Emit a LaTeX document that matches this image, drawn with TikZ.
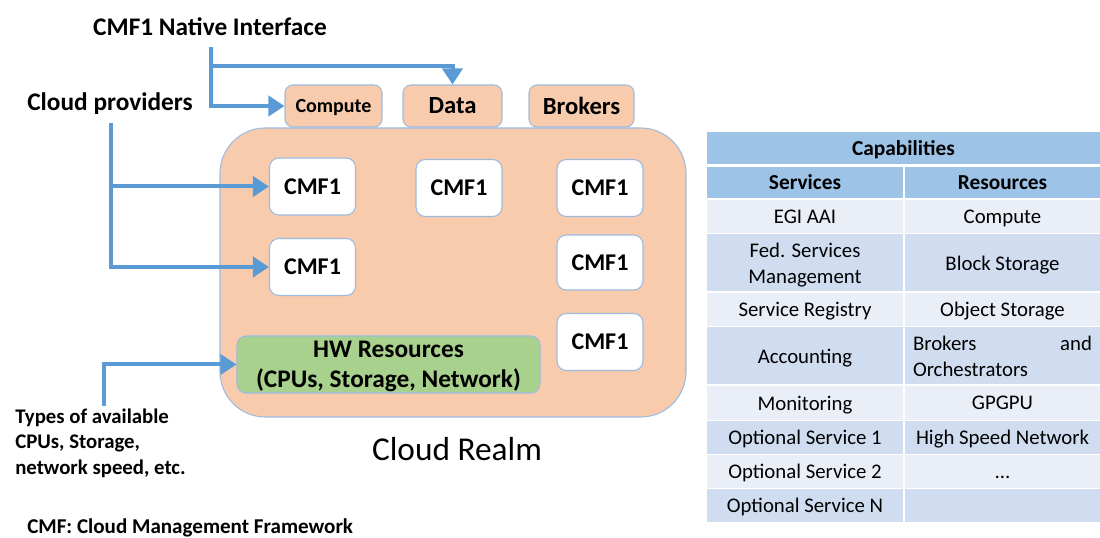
\documentclass[tikz,border=0pt]{standalone}
\usepackage{fontspec}
\setmainfont{Carlito}
\usetikzlibrary{arrows.meta}
\definecolor{arrblue}{HTML}{5B9BD5}
\definecolor{peach}{HTML}{F8CBAD}
\definecolor{edgeblue}{HTML}{9DBBE0}
\definecolor{hwgreen}{HTML}{A9D18E}
\definecolor{hdrblue}{HTML}{9DC3E6}
\definecolor{bandlight}{HTML}{E9EEF7}
\definecolor{banddark}{HTML}{D0DCEF}
\def\PX{0.75pt}
\tikzset{
  lbl/.style={font=\fontsize{19}{23}\selectfont\bfseries, inner sep=0pt},
  topbox/.style={draw=edgeblue, line width=0.8pt, fill=peach, rounded corners=6pt, minimum height=42*\PX, inner sep=0pt, text depth=0pt},
  cmfbox/.style={draw=edgeblue, line width=0.8pt, fill=white, rounded corners=7pt, minimum width=86*\PX, minimum height=57*\PX, inner sep=0pt, font=\fontsize{18}{22}\selectfont\bfseries, text depth=0pt},
  conn/.style={draw=arrblue, line width=3pt, line join=miter, -{Triangle[length=12pt,width=15pt]}},
  celltext/.style={inner sep=0pt, align=center, font=\fontsize{15.6}{19.5}\selectfont},
  cell/.style={celltext, text depth=0pt},
  hcell/.style={inner sep=0pt, align=center, font=\fontsize{16}{19.5}\selectfont\bfseries, fill=hdrblue, text depth=0pt},
}
\begin{document}
\begin{tikzpicture}[x=0.75pt,y=-0.75pt]
\useasboundingbox (0,0) rectangle (1100,538);

% labels
\node[lbl] (ni) at (210,27) {CMF1 Native Interface};
\node[lbl] (cp) at (110,104) {Cloud providers};

% top boxes
\node[topbox, minimum width=97*\PX, font=\fontsize{15}{18}\selectfont\bfseries] (compute) at (333.5,106) {Compute};
\node[topbox, minimum width=99*\PX, font=\fontsize{18.5}{22}\selectfont\bfseries] (data) at (452.5,106) {Data};
\node[topbox, minimum width=105*\PX, font=\fontsize{18.5}{22}\selectfont\bfseries] (brokers) at (581.5,106) {Brokers};

% realm
\node[draw=edgeblue, line width=0.8pt, fill=peach, rounded corners=34pt, minimum width=466*\PX, minimum height=289*\PX] (realm) at (453,272.5) {};
\node[font=\fontsize{25}{30}\selectfont, inner sep=0pt] (realmlbl) at (457,449) {Cloud Realm};

% CMF1 boxes
\node[cmfbox] (b1) at (312.5,186.5) {CMF1};
\node[cmfbox] (b2) at (459,188) {CMF1};
\node[cmfbox] (b3) at (600,188) {CMF1};
\node[cmfbox] (b4) at (312.5,267) {CMF1};
\node[cmfbox, minimum height=55*\PX] (b5) at (600,262.5) {CMF1};
\node[cmfbox] (b6) at (600,342) {CMF1};

% HW resources
\node[draw=edgeblue, line width=0.8pt, fill=hwgreen, rounded corners=7pt, minimum width=303*\PX, minimum height=57*\PX, inner sep=0pt] (hw) at (388.5,364.5) {};
\node[inner sep=0pt, align=center, font=\fontsize{19}{23}\selectfont\bfseries] (hwt) at (388.5,366.5) {HW Resources\\(CPUs, Storage, Network)};

% side notes
\node[anchor=west, align=left, inner sep=0pt, font=\fontsize{15.6}{19.2}\selectfont\bfseries] (types) at (15,443) {Types of available\\CPUs, Storage,\\network speed, etc.};
\node[anchor=base west, inner sep=0pt, font=\fontsize{15.8}{19}\selectfont\bfseries] (foot) at (27,533) {CMF: Cloud Management Framework};

% connectors
\coordinate (niS) at (211,47);
\coordinate (niB) at (211,66);
\draw[conn] (niS) |- (compute.west);
\draw[conn] (niB) -| (data.north);
\coordinate (cpS) at (111,123);
\coordinate (cpB) at (111,186.5);
\draw[conn] (cpS) |- (b4.west);
\draw[conn] (cpB) -- (b1.west);
\coordinate (hwS) at (104,406);
\draw[conn] (hwS) |- (hw.west);

% table
\node[hcell, minimum width=393*\PX, minimum height=32*\PX] (cap) at (903.5,148) {Capabilities};
\node[hcell, minimum width=196*\PX, minimum height=31*\PX] (hs) at (805,182.5) {Services};
\node[hcell, minimum width=195*\PX, minimum height=31*\PX] (hr) at (1002.5,182.5) {Resources};

\node[cell, fill=bandlight, minimum width=196*\PX, minimum height=33*\PX] (s1) at (805,216.5) {EGI AAI};
\node[cell, fill=bandlight, minimum width=195*\PX, minimum height=33*\PX] (r1) at (1002.5,216.5) {Compute};

\node[cell, fill=banddark, minimum width=196*\PX, minimum height=57*\PX] (s2) at (805,263) {Fed. Services\\Management};
\node[cell, fill=banddark, minimum width=195*\PX, minimum height=57*\PX] (r2) at (1002.5,263) {Block Storage};

\node[cell, fill=bandlight, minimum width=196*\PX, minimum height=32.5*\PX] (s3) at (805,309.5) {Service Registry};
\node[cell, fill=bandlight, minimum width=195*\PX, minimum height=32.5*\PX] (r3) at (1002.5,309.5) {Object Storage};

\node[cell, fill=banddark, minimum width=196*\PX, minimum height=57*\PX] (s4) at (805,356) {Accounting};
\node[fill=banddark, minimum width=195*\PX, minimum height=57*\PX, inner sep=0pt] (r4) at (1002.5,356) {};
\node[celltext, align=left, text width=179*\PX] (r4t) at (1002.5,356) {Brokers\hfill and\\Orchestrators};

\node[cell, fill=bandlight, minimum width=196*\PX, minimum height=33*\PX] (s5) at (805,403) {Monitoring};
\node[cell, fill=bandlight, minimum width=195*\PX, minimum height=33*\PX] (r5) at (1002.5,403) {GPGPU};

\node[cell, fill=banddark, minimum width=196*\PX, minimum height=32.5*\PX] (s6) at (805,437.5) {Optional Service 1};
\node[cell, fill=banddark, minimum width=195*\PX, minimum height=32.5*\PX] (r6) at (1002.5,437.5) {High Speed Network};

\node[cell, fill=bandlight, minimum width=196*\PX, minimum height=32.5*\PX] (s7) at (805,471.5) {Optional Service 2};
\node[cell, fill=bandlight, minimum width=195*\PX, minimum height=32.5*\PX] (r7) at (1002.5,471.5) {\vphantom{O}\dots};

\node[cell, fill=banddark, minimum width=196*\PX, minimum height=32.5*\PX] (s8) at (805,505.5) {Optional Service N};
\node[cell, fill=banddark, minimum width=195*\PX, minimum height=32.5*\PX] (r8) at (1002.5,505.5) {};
\end{tikzpicture}
\end{document}
